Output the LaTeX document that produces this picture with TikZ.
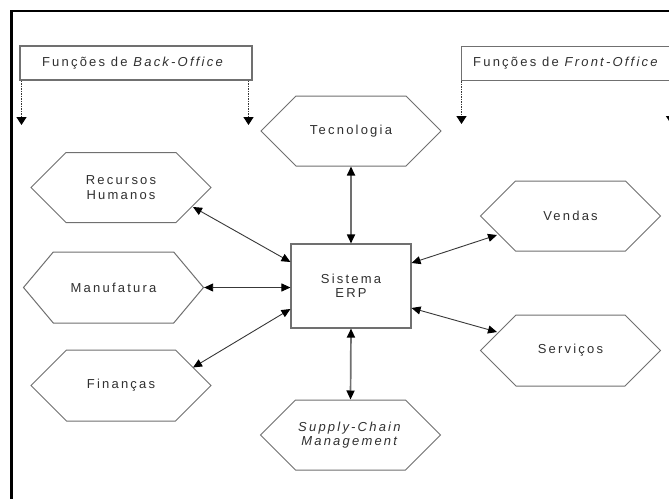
\documentclass[tikz,border=0pt]{standalone}
\usepackage{fontspec}
\setmainfont{Liberation Sans}[LetterSpace=17]
\usetikzlibrary{shapes.symbols,arrows.meta,calc}
\definecolor{edge}{HTML}{707070}
\definecolor{txt}{HTML}{303030}
\definecolor{conn}{HTML}{383838}
\tikzset{
  hexa/.style={signal, signal to=east and west, signal pointer angle=90,
    draw=edge, line width=1pt, fill=white, text=txt, align=center,
    minimum width=180pt, minimum height=70pt, inner sep=0pt, font=\fontsize{13}{14.5}\selectfont},
  erpbox/.style={draw=edge, line width=1.1pt, fill=white, text=txt, align=center,
    minimum width=120pt, minimum height=84pt, font=\fontsize{13}{14.5}\selectfont},
  labbox/.style={draw=edge, line width=1.1pt, fill=white, text=txt, minimum height=34pt, inner sep=0pt},
  link/.style={{Triangle[length=9pt,width=8pt,color=black]}-{Triangle[length=9pt,width=8pt,color=black]}, draw=conn, line width=0.9pt},
  vlink/.style={link, line width=1.7pt, draw=edge},
  dots/.style={-{Triangle[length=8pt,width=10pt,color=black]}, draw=conn, line width=1.5pt, densely dotted},
  labtext/.style={text=txt, font=\fontsize{13}{14.5}\selectfont, inner sep=0pt}
}
\begin{document}
\begin{tikzpicture}[x=1pt,y=-1pt]
\useasboundingbox (0,0) rectangle (669,498);
\fill[white] (0,0) rectangle (669,498);
% frame
\draw[black, line width=1.5pt] (10,11) -- (680,11);
\draw[black, line width=3pt] (11,10) -- (11,510);
% label boxes
\node[labbox, minimum width=232pt] (bo) at (136,63) {};
\node[labtext] at (133.5,63.5) {Funções de \textit{Back-Office}};
\node[labbox, minimum width=240pt, anchor=north west] (fo) at (461,46) {};
\node[labtext, anchor=west] at (473,63.5) {Funções de \textit{Front-Office}};
\coordinate (bo1) at (21.5,125);
\coordinate (bo2) at (248.5,125);
\coordinate (fo1) at (461.5,124);
\coordinate (fo2) at (671,124);
\draw[dots] (bo.south west -| bo1) -- (bo1);
\draw[dots] (bo.south east -| bo2) -- (bo2);
\draw[dots] (fo.south west -| fo1) -- (fo1);
\draw[dots] (fo.south west -| fo2) -- (fo2);
% nodes
\node[erpbox] (erp) at (351,286) {Sistema\\ERP};
\node[hexa] (tec) at (351,131) {Tecnologia};
\node[hexa] (rh) at (121,187.5) {Recursos\\Humanos};
\node[hexa, signal pointer angle=100, minimum height=71pt] (man) at (113.5,287.5) {Manufatura};
\node[hexa, minimum height=71pt] (fin) at (121,385.5) {Finanças};
\node[hexa] (scm) at (350.5,435) {\textit{Supply-Chain}\\\textit{Management}};
\node[hexa] (ven) at (570.5,216) {Vendas};
\node[hexa, minimum height=71pt] (ser) at (570.5,350.5) {Serviços};
% connectors
\draw[vlink] (tec.south) -- (erp.north);
\draw[vlink] (erp.south) -- (scm.north);
\draw[link] (man.east) -- (man.east -| erp.west);
\draw[link] ($(rh.center)+(72,19.5)$) -- ($(erp.west)+(0,-24)$);
\draw[link] ($(fin.center)+(72,-18)$) -- ($(erp.west)+(0,23)$);
\draw[link] ($(erp.east)+(0,-23)$) -- ($(ven.center)+(-73.5,19)$);
\draw[link] ($(erp.east)+(0,22)$) -- ($(ser.center)+(-73.5,-18.5)$);
\end{tikzpicture}
\end{document}
